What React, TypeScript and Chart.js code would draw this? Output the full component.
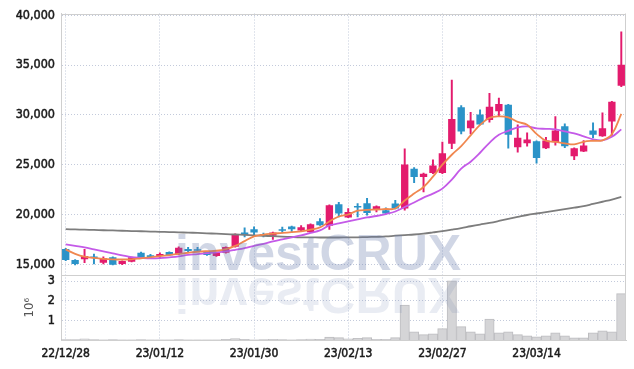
import React, { useEffect, useRef } from 'react';
import { Chart, registerables } from 'chart.js';

Chart.register(...registerables);

const dates = [
  '22/12/28', '22/12/29', '23/01/02', '23/01/03', '23/01/04', '23/01/05', '23/01/06', '23/01/09', '23/01/10', '23/01/11',
  '23/01/12', '23/01/13', '23/01/16', '23/01/17', '23/01/18', '23/01/19', '23/01/20', '23/01/25', '23/01/26', '23/01/27',
  '23/01/30', '23/01/31', '23/02/01', '23/02/02', '23/02/03', '23/02/06', '23/02/07', '23/02/08', '23/02/09', '23/02/10',
  '23/02/13', '23/02/14', '23/02/15', '23/02/16', '23/02/17', '23/02/20', '23/02/21', '23/02/22', '23/02/23', '23/02/24',
  '23/02/27', '23/02/28', '23/03/02', '23/03/03', '23/03/06', '23/03/07', '23/03/08', '23/03/09', '23/03/10', '23/03/13',
  '23/03/14', '23/03/15', '23/03/16', '23/03/17', '23/03/20', '23/03/21', '23/03/22', '23/03/23', '23/03/24', '23/03/27',
];

const openP = [
  16530, 15430, 15500, 15730, 15160, 15700, 15030, 15260, 16160, 15900,
  15830, 16230, 16000, 16530, 16500, 16260, 15830, 16160, 16760, 18200,
  18530, 18030, 17860, 18530, 18800, 18400, 18230, 19330, 18860, 21030,
  19700, 20730, 21130, 20530, 20430, 21100, 20600, 24600, 23760, 24160,
  24160, 27100, 30760, 28660, 30030, 29500, 30360, 31030, 26760, 27160,
  27360, 26660, 27260, 28860, 25860, 26330, 28430, 27860, 29330, 32930,
];
const highP = [
  16600, 15480, 16500, 16030, 15760, 15750, 15350, 15730, 16230, 16000,
  16160, 16260, 16760, 16700, 16700, 16300, 16200, 16760, 18060, 18660,
  18760, 18130, 18230, 18730, 18830, 18900, 19060, 19600, 20960, 21230,
  20600, 21100, 21630, 20860, 20660, 21430, 26600, 24700, 24150, 25500,
  27260, 33500, 30930, 30260, 30500, 32160, 31700, 31060, 29000, 28200,
  27400, 27760, 29830, 29100, 26700, 27430, 29200, 30200, 31360, 38330,
];
const lowP = [
  15360, 14950, 15160, 15030, 15030, 14930, 14960, 15230, 15570, 15560,
  15600, 15870, 15970, 16170, 16300, 15900, 15800, 16130, 16730, 17760,
  17830, 17760, 17500, 18160, 18200, 18300, 18200, 18900, 18500, 19760,
  19680, 19760, 19930, 20260, 20080, 20570, 20430, 23200, 22260, 24100,
  24100, 26600, 28100, 28100, 29000, 29260, 29830, 26660, 26260, 26860,
  25160, 26600, 26960, 26700, 25500, 26300, 27700, 27830, 27930, 32830,
];
const closeP = [
  15430, 15030, 15830, 15630, 15600, 14960, 15330, 15700, 15600, 15700,
  16030, 15900, 16660, 16330, 16360, 15930, 16160, 16730, 18030, 17930,
  18200, 17860, 18200, 18360, 18530, 18730, 19030, 18930, 20930, 20100,
  20260, 20700, 20160, 20830, 20100, 20600, 25030, 23760, 24100, 24930,
  26160, 29600, 28330, 29430, 29030, 30830, 31100, 28000, 27700, 27530,
  25660, 27430, 28430, 26860, 26660, 26930, 28000, 28660, 31330, 35030,
];
const volume = [
  20000, 20000, 60000, 20000, 10000, 20000, 10000, 10000, 20000, 10000,
  10000, 10000, 20000, 10000, 10000, 10000, 10000, 30000, 70000, 30000,
  10000, 20000, 40000, 20000, 10000, 20000, 50000, 30000, 150000, 120000,
  60000, 90000, 125000, 40000, 40000, 125000, 1780000, 420000, 270000, 320000,
  580000, 3010000, 680000, 420000, 320000, 1070000, 370000, 420000, 270000, 210000,
  160000, 210000, 370000, 210000, 110000, 110000, 370000, 470000, 420000, 2360000,
];
const ma5 = [
  16500, 16050, 15760, 15650, 15550, 15500, 15480, 15500, 15600, 15700,
  15820, 15930, 16050, 16160, 16260, 16320, 16360, 16520, 16850, 17330,
  17800, 17990, 18080, 18150, 18230, 18300, 18480, 18700, 19300, 19800,
  20000, 20380, 20460, 20500, 20550, 20600, 21400, 22100, 22760, 23800,
  25000, 26000, 26870, 27940, 29000, 29700, 29850, 29760, 29300, 29000,
  28100, 27400, 27300, 27150, 27050, 27300, 27400, 27450, 28050, 30100,
];
const ma20 = [
  17000, 16850, 16700, 16500, 16300, 16100, 15900, 15720, 15650, 15600,
  15620, 15700, 15800, 15950, 16030, 16120, 16200, 16300, 16450, 16620,
  16850, 17050, 17300, 17500, 17700, 17900, 18150, 18400, 18900, 19100,
  19300, 19500, 19700, 19850, 20050, 20300, 20750, 21200, 21700, 22100,
  22600, 23500, 24600, 25300, 26200, 27200, 28000, 28400, 28750, 28850,
  28650, 28600, 28550, 28350, 28150, 27850, 27550, 27450, 27800, 28550,
];
const ma60 = [
  18530, 18500, 18480, 18450, 18420, 18400, 18370, 18340, 18320, 18290,
  18260, 18240, 18210, 18180, 18150, 18110, 18070, 18030, 17990, 17950,
  17900, 17860, 17820, 17780, 17740, 17710, 17700, 17690, 17690, 17690,
  17700, 17710, 17730, 17760, 17800, 17870, 17930, 17990, 18080, 18200,
  18330, 18480, 18640, 18820, 18990, 19160, 19350, 19550, 19750, 19950,
  20100, 20240, 20380, 20530, 20680, 20840, 21060, 21280, 21500, 21760,
];
const priceTicks = [15000, 20000, 25000, 30000, 35000, 40000];
const volumeTicks = [1000000, 2000000, 3000000];

const UP = '#e31b6d';
const DOWN = '#2b93c8';
const GRID = '#c3cadb';
const FRAME = '#cfcfcf';
const TEXT = '#1a1a1a';
const XFONT = { family: 'DejaVu Sans Condensed', size: 12 };
const YFONT = { family: 'DejaVu Sans Condensed', size: 12.5 };

const overlayPlugin = {
  id: 'overlay',
  afterDatasetsDraw(chart: any) {
    const { ctx, chartArea } = chart;
    const yv = chart.scales.yv;
    ctx.save();
    // watermark + reflection
    ctx.font = 'bold 50px "Liberation Sans", Arial, sans-serif';
    ctx.textBaseline = 'alphabetic';
    ctx.fillStyle = 'rgba(100,120,170,0.3)';
    ctx.fillText('investCRUX', 175, 270);
    ctx.save();
    ctx.translate(0, 2 * 274);
    ctx.scale(1, -1);
    ctx.fillStyle = 'rgba(100,120,170,0.14)';
    ctx.fillText('investCRUX', 175, 270);
    ctx.restore();
    // frame
    ctx.strokeStyle = FRAME;
    ctx.lineWidth = 1;
    ctx.beginPath();
    ctx.moveTo(chartArea.left, Math.round(chartArea.top) + 0.5);
    ctx.lineTo(chartArea.right, Math.round(chartArea.top) + 0.5);
    ctx.moveTo(Math.round(chartArea.right) - 0.5, chartArea.top);
    ctx.lineTo(Math.round(chartArea.right) - 0.5, chartArea.bottom);
    ctx.moveTo(chartArea.left, Math.round(yv.top) + 0.5);
    ctx.lineTo(chartArea.right, Math.round(yv.top) + 0.5);
    ctx.stroke();
    ctx.restore();
  },
};

export default function App() {
  const ref = useRef<HTMLCanvasElement | null>(null);
  useEffect(() => {
    if (!ref.current) return;
    const colors = openP.map((o, i) => (closeP[i] >= o ? UP : DOWN));
    const chart = new Chart(ref.current, {
      type: 'bar',
      data: {
        labels: dates,
        datasets: [
          { type: 'line', label: 'MA5', data: ma5, yAxisID: 'y', borderColor: '#f0874f', borderWidth: 1.8, pointRadius: 0, tension: 0.4, order: 0 } as any,
          { type: 'line', label: 'MA20', data: ma20, yAxisID: 'y', borderColor: '#c45ae8', borderWidth: 1.8, pointRadius: 0, tension: 0.4, order: 0 } as any,
          { type: 'line', label: 'MA60', data: ma60, yAxisID: 'y', borderColor: '#7d7d7d', borderWidth: 1.8, pointRadius: 0, tension: 0.4, order: 0 } as any,
          {
            type: 'bar', label: 'body', data: openP.map((o, i) => [o, closeP[i]]), yAxisID: 'y',
            backgroundColor: colors, grouped: false, barPercentage: 0.78, categoryPercentage: 1, minBarLength: 1.5, order: 1,
          } as any,
          {
            type: 'bar', label: 'wick', data: lowP.map((l, i) => [l, highP[i]]), yAxisID: 'y',
            backgroundColor: colors, grouped: false, barThickness: 1.3, order: 2,
          } as any,
          {
            type: 'bar', label: 'volume', data: volume, yAxisID: 'yv',
            backgroundColor: '#d5d5d7', borderColor: '#bdbdc0', borderWidth: 1,
            grouped: false, barPercentage: 1, categoryPercentage: 1, order: 3,
          } as any,
        ],
      },
      options: {
        responsive: false,
        animation: false,
        layout: { padding: { top: 12, right: 8, left: 0, bottom: 0 } },
        plugins: { legend: { display: false }, tooltip: { enabled: false } },
        scales: {
          x: {
            type: 'category',
            offset: true,
            grid: { offset: false, color: GRID, drawTicks: false },
            border: { display: true, color: FRAME, dash: [1, 2] },
            ticks: { autoSkip: false, maxRotation: 0, padding: 7, color: TEXT, font: XFONT, textStrokeColor: TEXT, textStrokeWidth: 0.5 },
            afterBuildTicks: (s: any) => { s.ticks = s.ticks.filter((t: any) => t.value % 10 === 0); },
            afterFit: (s: any) => { s.height = 29; },
          },
          y: {
            type: 'linear', position: 'left', stack: 'main', stackWeight: 262.8, weight: 2,
            min: 13900, max: 40180,
            afterBuildTicks: (s: any) => { s.ticks = priceTicks.map((v) => ({ value: v })); },
            grid: { color: GRID, drawTicks: false },
            border: { display: true, color: FRAME, dash: [1, 2] },
            ticks: { autoSkip: false, padding: 6, color: TEXT, font: YFONT, textStrokeColor: TEXT, textStrokeWidth: 0.5, callback: (v: any) => Number(v).toLocaleString('en-US') },
            afterFit: (s: any) => { s.width = 61; },
          },
          yv: {
            type: 'linear', position: 'left', stack: 'main', stackWeight: 65, weight: 1,
            min: 0, max: 3300000,
            afterBuildTicks: (s: any) => { s.ticks = volumeTicks.map((v) => ({ value: v })); },
            grid: { color: GRID, drawTicks: false },
            border: { display: true, color: FRAME, dash: [1, 2] },
            title: { display: true, text: '10⁶', color: '#555', font: { family: 'DejaVu Sans Condensed', size: 13 }, padding: { top: 22, bottom: 0 } },
            ticks: { autoSkip: false, padding: 6, color: TEXT, font: YFONT, textStrokeColor: TEXT, textStrokeWidth: 0.5, callback: (v: any) => String(Number(v) / 1000000) },
            afterFit: (s: any) => { s.width = 61; },
          },
        },
      } as any,
      plugins: [overlayPlugin],
    });
    return () => chart.destroy();
  }, []);
  return (
    <div style={{ position: 'absolute', left: 0, top: 0, width: 634, height: 369 }}>
      <canvas ref={ref} width={634} height={369} />
    </div>
  );
}
